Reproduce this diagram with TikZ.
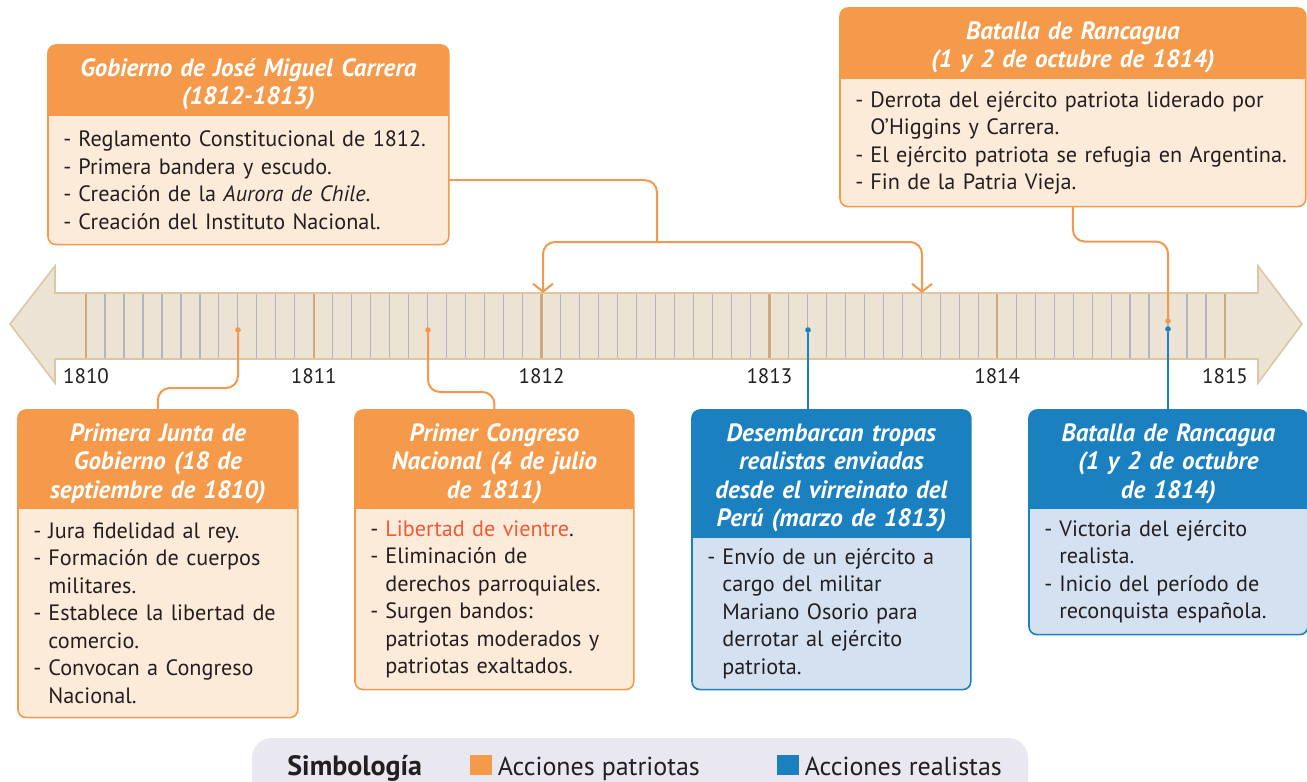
\documentclass[tikz,border=0pt]{standalone}
\usepackage{fontspec}
\setmainfont{PT Sans}
\usetikzlibrary{positioning,arrows.meta,backgrounds}

\definecolor{orhead}{RGB}{245,154,75}
\definecolor{orbody}{RGB}{253,235,217}
\definecolor{orline}{RGB}{243,152,78}
\definecolor{blhead}{RGB}{27,128,192}
\definecolor{blbody}{RGB}{211,225,241}
\definecolor{barfill}{RGB}{237,227,212}
\definecolor{barline}{RGB}{220,199,165}
\definecolor{majtick}{RGB}{205,170,126}
\definecolor{mintick}{RGB}{180,180,192}
\definecolor{ink}{RGB}{35,31,32}
\definecolor{vientre}{RGB}{238,90,58}
\definecolor{legbg}{RGB}{233,231,239}

\newcommand{\li}[1]{\mbox{\makebox[7.5pt][l]{-}#1}}
\newcommand{\lc}[1]{\mbox{\hspace*{7.5pt}#1}}

% fills and frame of one event box (header node, body node, colours)
\newcommand{\eventbg}[4]{%
  \begin{scope}[on background layer]
    \begin{scope}
      \clip[rounded corners=4pt] (#1.north west) rectangle (#2.south east);
      \fill[#3] (#1.north west) rectangle (#1.south east);
      \fill[#4] (#2.north west) rectangle (#2.south east);
    \end{scope}
    \draw[#3, line width=0.8pt, rounded corners=4pt] (#1.north west) rectangle (#2.south east);
  \end{scope}}

\tikzset{
  hdr/.style={anchor=north west, text width=#1, inner xsep=0pt, inner ysep=0pt,
    align=center, text=white, font=\fontsize{12.5}{14.25}\selectfont\bfseries\itshape,
    execute at begin node={\rule{0pt}{13pt}}},
  body/.style={text width=#1, inner xsep=7.5pt, inner ysep=0pt, align=left,
    text=ink, font=\fontsize{11.1}{13.75}\selectfont},
  olink/.style={draw=orline, line width=1pt, rounded corners=6pt},
  blink/.style={draw=blhead, line width=1pt},
  odot/.style={circle, fill=orline, inner sep=0pt, minimum size=2.8pt},
  bdot/.style={circle, fill=blhead, inner sep=0pt, minimum size=2.8pt},
  yearlbl/.style={text=ink, font=\fontsize{10.5}{12}\selectfont},
  legtext/.style={text=ink, inner sep=0pt, anchor=base west, font=\fontsize{13}{15}\selectfont},
  legkey/.style={inner sep=0pt, minimum width=11pt, minimum height=10pt}
}

\begin{document}
\begin{tikzpicture}[x=0.5pt, y=-0.5pt]
\useasboundingbox (0,0) rectangle (1307,782);
\clip (0,0) rectangle (1307,782);

% timeline
\filldraw[fill=barfill, draw=barline, line width=0.8pt]
  (10,324) -- (55,266) -- (55,293) -- (1258,293) -- (1258,266) -- (1302,324)
  -- (1258,383) -- (1258,359) -- (55,359) -- (55,383) -- cycle;
\foreach \yr in {0,...,4}{
  \foreach \mo in {1,...,11}
    \draw[mintick, line width=0.6pt] ({86+227.8*\yr+18.983*\mo},294) -- ++(0,64);
}
\foreach \yr [count=\i from 0] in {1810,...,1815}{
  \draw[majtick, line width=1.2pt] ({86+227.8*\i},294) -- ++(0,64);
  \node[yearlbl] (y\yr) at ({86+227.8*\i},376) {\yr};
}

% events
\node[hdr=200pt, minimum height=35pt] (hCarrera) at (48,45)
  {Gobierno de José Miguel Carrera\\(1812-1813)};
\node[body=185pt, minimum height=64pt, below=0pt of hCarrera] (bCarrera)
  {\li{Reglamento Constitucional de 1812.}\\
   \li{Primera bandera y escudo.}\\
   \li{Creación de la \textit{Aurora de Chile}.}\\
   \li{Creación del Instituto Nacional.}};
\eventbg{hCarrera}{bCarrera}{orhead}{orbody}

\node[hdr=232.5pt, minimum height=35pt] (hRancP) at (840,8)
  {Batalla de Rancagua\\(1 y 2 de octubre de 1814)};
\node[body=217.5pt, minimum height=63.5pt, below=0pt of hRancP] (bRancP)
  {\li{Derrota del ejército patriota liderado por}\\
   \lc{O’Higgins y Carrera.}\\
   \li{El ejército patriota se refugia en Argentina.}\\
   \li{Fin de la Patria Vieja.}};
\eventbg{hRancP}{bRancP}{orhead}{orbody}

\node[hdr=139.5pt, minimum height=49pt] (hJunta) at (18,410)
  {Primera Junta de\\Gobierno (18 de\\septiembre de 1810)};
\node[body=124.5pt, minimum height=104pt, below=0pt of hJunta] (bJunta)
  {\li{Jura fidelidad al rey.}\\
   \li{Formación de cuerpos}\\
   \lc{militares.}\\
   \li{Establece la libertad de}\\
   \lc{comercio.}\\
   \li{Convocan a Congreso}\\
   \lc{Nacional.}};
\eventbg{hJunta}{bJunta}{orhead}{orbody}

\node[hdr=139pt, minimum height=49pt] (hCongreso) at (355,410)
  {Primer Congreso\\Nacional (4 de julio\\de 1811)};
\node[body=124pt, minimum height=90pt, below=0pt of hCongreso] (bCongreso)
  {\li{\textcolor{vientre}{Libertad de vientre}.}\\
   \li{Eliminación de}\\
   \lc{derechos parroquiales.}\\
   \li{Surgen bandos:}\\
   \lc{patriotas moderados y}\\
   \lc{patriotas exaltados.}};
\eventbg{hCongreso}{bCongreso}{orhead}{orbody}

\node[hdr=139pt, minimum height=63.5pt] (hDesemb) at (692,410)
  {Desembarcan tropas\\realistas enviadas\\desde el virreinato del\\Perú (marzo de 1813)};
\node[body=124pt, minimum height=75.5pt, below=0pt of hDesemb] (bDesemb)
  {\li{Envío de un ejército a}\\
   \lc{cargo del militar}\\
   \lc{Mariano Osorio para}\\
   \lc{derrotar al ejército}\\
   \lc{patriota.}};
\eventbg{hDesemb}{bDesemb}{blhead}{blbody}

\node[hdr=139pt, minimum height=49pt] (hRancR) at (1029,410)
  {Batalla de Rancagua\\(1 y 2 de octubre\\de 1814)};
\node[body=124pt, minimum height=62.5pt, below=0pt of hRancR] (bRancR)
  {\li{Victoria del ejército}\\
   \lc{realista.}\\
   \li{Inicio del período de}\\
   \lc{reconquista española.}};
\eventbg{hRancR}{bRancR}{blhead}{blbody}

% markers on the timeline
\node[odot] (mJunta) at (238,330) {};
\node[odot] (mCongreso) at (428,330) {};
\node[bdot] (mDesemb) at (808,330) {};
\node[odot] (mRancP) at (1168,321) {};
\node[bdot] (mRancR) at (1168,329) {};
\coordinate (jCarrera) at (657,242);
\coordinate (tCarrera1) at (543,293);
\coordinate (tCarrera2) at (922,293);

% connectors
\draw[olink] (bCarrera.east) -| (jCarrera);
\draw[olink, -{Straight Barb[length=4pt,width=10pt]}] (jCarrera) -| (tCarrera1);
\draw[olink, -{Straight Barb[length=4pt,width=10pt]}] (jCarrera) -| (tCarrera2);
\draw[olink] (bRancP.south) -- ++(0,35) -| (mRancP);
\draw[olink] (hJunta.north) -- ++(0,-22) -| (mJunta);
\draw[olink] (hCongreso.north) -- ++(0,-18) -| (mCongreso);
\draw[blink] (mDesemb) -- (mDesemb |- hDesemb.north);
\draw[blink] (mRancR) -- (mRancR |- hRancR.north);

% legend
\fill[legbg, rounded corners=10pt] (252,738) rectangle (1028,810);
\node[legtext, font=\fontsize{14}{16}\selectfont\bfseries] (simb) at (287,775) {Simbología};
\node[legkey, fill=orhead] (kPat) at (481,765) {};
\node[legtext] (tPat) at ([xshift=2.5pt,yshift=-5pt]kPat.east) {Acciones patriotas};
\node[legkey, fill=blhead] (kRea) at (788,765) {};
\node[legtext] (tRea) at ([xshift=2.5pt,yshift=-5pt]kRea.east) {Acciones realistas};
\end{tikzpicture}
\end{document}
